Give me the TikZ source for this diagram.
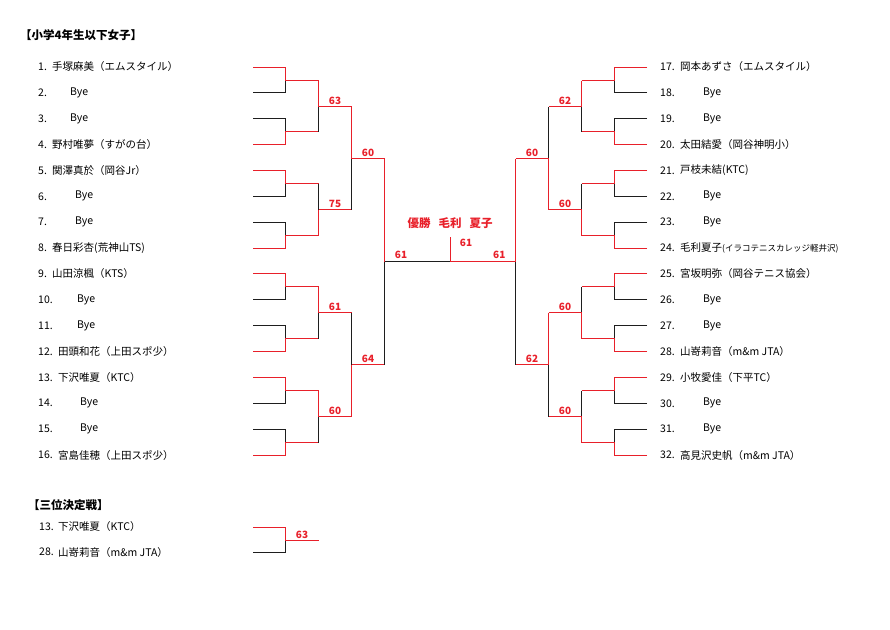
\documentclass[tikz,border=0pt]{standalone}
\usepackage{fontspec}
\setmainfont{Noto Sans CJK JP}
\usepackage{xcolor}
\definecolor{winred}{HTML}{E8202A}
\definecolor{loseblack}{HTML}{1E1E1E}
\usetikzlibrary{positioning}
\tikzset{
  entry/.style={anchor=west, inner sep=0pt, font=\fontsize{10.5}{12}\selectfont},
  heading/.style={anchor=west, inner sep=0pt, font=\bfseries\fontsize{11.5}{13}\selectfont},
  score/.style={inner sep=0pt, text=winred, font=\bfseries\fontsize{10}{11}\selectfont},
  champ/.style={inner sep=0pt, text=winred, font=\bfseries\fontsize{11.5}{13}\selectfont},
  winline/.style={line width=1.1pt, color=winred},
  loseline/.style={line width=1.1pt, color=loseblack}
}
% one bout: vertical x, next x, winner y, loser y, score
\newcommand{\bout}[5]{%
  \pgfmathsetmacro\bmy{floor((#3+#4)/2)+0.5}
  \coordinate (bw) at (#1,#3);
  \coordinate (bl) at (#1,#4);
  \coordinate (bm) at (#1,\bmy);
  \coordinate (bo) at (#2,\bmy);
  \draw[loseline] (bl) -- (bm);
  \draw[winline] (bw) -- (bm);
  \draw[winline] (bm) -- node[score, above=1.5pt] {#5} (bo);
}

\begin{document}
\begin{tikzpicture}[x=1pt,y=-1pt]
  \useasboundingbox (0,0) rectangle (890,629);

  % Title
  \node[heading] (title) at (20,35) {【小学4年生以下女子】};

  % Entries, left
  \foreach \i/\x/\t in {1/52/手塚麻美（エムスタイル）, 2/70/Bye, 3/70/Bye,
      4/52/野村唯夢（すがの台）, 5/52/関澤真於（岡谷Jr）, 6/75/Bye, 7/75/Bye,
      8/52/春日彩杏(荒神山TS), 9/52/山田涼楓（KTS）, 10/77/Bye, 11/77/Bye,
      12/58/田頭和花（上田スポ少）, 13/58/下沢唯夏（KTC）, 14/80/Bye, 15/80/Bye,
      16/58/宮島佳穂（上田スポ少）}{
    \pgfmathsetmacro\y{67+25.87*(\i-1)}
    \node[entry] (n\i) at (38,\y) {\i.};
    \node[entry] (p\i) at (\x,\y) {\t};
  }

  % Entries, right
  \foreach \i/\x/\t in {17/680/岡本あずさ（エムスタイル）, 18/703/Bye, 19/703/Bye,
      20/680/太田結愛（岡谷神明小）, 21/680/戸枝未結(KTC), 22/703/Bye, 23/703/Bye,
      24/680/毛利夏子{\fontsize{8.5}{9}\selectfont(イラコテニスカレッジ軽井沢)},
      25/680/宮坂明弥（岡谷テニス協会）, 26/703/Bye, 27/703/Bye,
      28/680/山嵜莉音（m\&m JTA）, 29/680/小牧愛佳（下平TC）, 30/703/Bye, 31/703/Bye,
      32/680/高見沢史帆（m\&m JTA）}{
    \pgfmathsetmacro\y{67+25.87*(\i-17)}
    \node[entry] (n\i) at (660,\y) {\i.};
    \node[entry] (p\i) at (\x,\y) {\t};
  }

  % First round (winner row / loser row), both halves
  \foreach \w/\l in {1/2, 4/3, 5/6, 8/7, 9/10, 12/11, 13/14, 16/15}{
    \pgfmathsetmacro\yw{floor(67+25.87*(\w-1))+0.5}
    \pgfmathsetmacro\yl{floor(67+25.87*(\l-1))+0.5}
    \pgfmathsetmacro\ym{floor((\yw+\yl)/2)+0.5}
    \draw[loseline] (253,\yl) -- (285.5,\yl) -- (285.5,\ym);
    \draw[winline] (253,\yw) -- (285.5,\yw) -- (285.5,\ym) -- (318.5,\ym);
    \draw[loseline] (647,\yl) -- (614.5,\yl) -- (614.5,\ym);
    \draw[winline] (647,\yw) -- (614.5,\yw) -- (614.5,\ym) -- (581.5,\ym);
  }

  % Second and third rounds, left
  \bout{318.5}{351.5}{80.5}{131.5}{63}
  \bout{318.5}{351.5}{235.5}{183.5}{75}
  \bout{318.5}{351.5}{286.5}{338.5}{61}
  \bout{318.5}{351.5}{390.5}{442.5}{60}
  \bout{351.5}{384.5}{106.5}{209.5}{60}
  \bout{351.5}{384.5}{416.5}{312.5}{64}

  % Second and third rounds, right
  \bout{581.5}{548.5}{80.5}{131.5}{62}
  \bout{581.5}{548.5}{235.5}{183.5}{60}
  \bout{581.5}{548.5}{338.5}{286.5}{60}
  \bout{581.5}{548.5}{442.5}{390.5}{60}
  \bout{548.5}{515.5}{209.5}{106.5}{60}
  \bout{548.5}{515.5}{312.5}{416.5}{62}

  % Semi-finals and final
  \coordinate (fl) at (384.5,261.5);
  \coordinate (fc) at (450.5,261.5);
  \coordinate (fr) at (515.5,261.5);
  \draw[loseline] (384.5,364.5) -- (fl);
  \draw[loseline] (515.5,364.5) -- (fr);
  \draw[loseline] (fl) -- node[score, above=2pt, pos=0.25] {61} (fc);
  \draw[winline] (384.5,158.5) -- (fl);
  \draw[winline] (515.5,158.5) -- (fr);
  \draw[winline] (fr) -- node[score, above=2pt, pos=0.25] {61} (fc);
  \draw[winline] (fc) -- ++(0,-25) coordinate (ft);
  \node[score] (fscore) at (466,243) {61};
  \node[champ] (champ) at (450,223) {優勝\hspace{8pt}毛利\hspace{8pt}夏子};

  % Third place
  \node[heading] (third) at (28,505) {【三位決定戦】};
  \node[entry] (n3a) at (39,527) {13.};
  \node[entry] (p3a) at (58,527) {下沢唯夏（KTC）};
  \node[entry] (n3b) at (39,552) {28.};
  \node[entry] (p3b) at (58,552) {山嵜莉音（m\&m JTA）};
  \coordinate (tm) at (285.5,540.5);
  \draw[loseline] (253,552.5) -- (285.5,552.5) -- (tm);
  \draw[winline] (253,527.5) -- (285.5,527.5) -- (tm) -- node[score, above=1.5pt] {63} (318.5,540.5);
\end{tikzpicture}
\end{document}
